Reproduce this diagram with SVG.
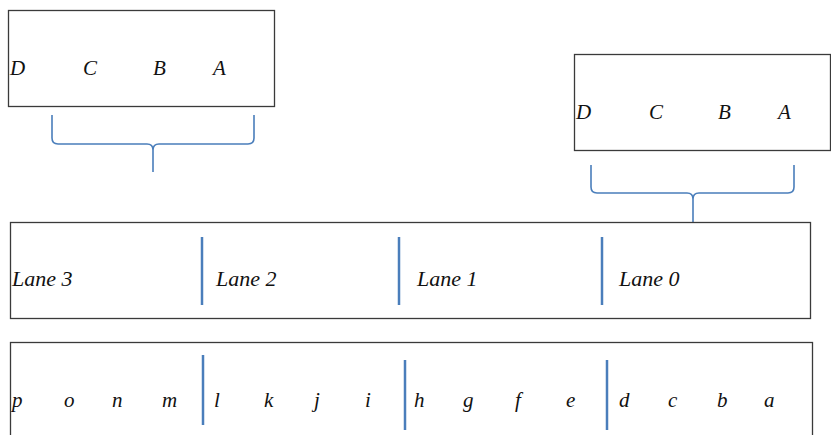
<svg xmlns="http://www.w3.org/2000/svg" width="831" height="435" viewBox="0 0 831 435">
<style>
.box{fill:#fff;stroke:#3a3a3a;stroke-width:1.3}
.sep{stroke:#4a7ebb;stroke-width:2.5;fill:none}
.brace{stroke:#4a7ebb;stroke-width:1.6;fill:none}
text{font-family:"Liberation Serif","Times New Roman",serif;font-style:italic;font-size:21px;fill:#111}
.lane{font-size:22px}
</style>
<rect width="831" height="435" fill="#fff"/>
<g id="connectors">
<path class="brace" d="M52,115 V138 Q52,144 58,144 H147 Q153,144 153,150 V172 M254,115 V138 Q254,144 248,144 H159 Q153,144 153,150"/>
<path class="brace" d="M591,165 V187 Q591,193 597,193 H687 Q693,193 693,199 V222 M794,165 V187 Q794,193 788,193 H699 Q693,193 693,199"/>
</g>
<g id="reg-left">
<rect class="box" x="8.5" y="10.5" width="266" height="96"/>
<text x="10" y="75">D</text>
<text x="83" y="75">C</text>
<text x="153" y="75">B</text>
<text x="213" y="75">A</text>
</g>
<g id="reg-right">
<rect class="box" x="574.5" y="54.5" width="256" height="96"/>
<text x="576" y="119">D</text>
<text x="649" y="119">C</text>
<text x="718" y="119">B</text>
<text x="778" y="119">A</text>
</g>
<g id="lanes">
<rect class="box" x="10.5" y="222.5" width="800" height="96"/>
<line class="sep" x1="202" y1="237" x2="202" y2="305"/>
<line class="sep" x1="399" y1="237" x2="399" y2="305"/>
<line class="sep" x1="602" y1="237" x2="602" y2="305"/>
<text class="lane" x="12" y="286">Lane 3</text>
<text class="lane" x="216" y="286">Lane 2</text>
<text class="lane" x="417" y="286">Lane 1</text>
<text class="lane" x="619" y="286">Lane 0</text>
</g>
<g id="elements">
<rect class="box" x="10.5" y="342.5" width="802" height="100"/>
<line class="sep" x1="203" y1="355" x2="203" y2="425"/>
<line class="sep" x1="405" y1="360" x2="405" y2="430"/>
<line class="sep" x1="607" y1="360" x2="607" y2="430"/>
<text x="12" y="407">p</text>
<text x="64" y="407">o</text>
<text x="112" y="407">n</text>
<text x="162" y="407">m</text>
<text x="214" y="407">l</text>
<text x="264" y="407">k</text>
<text x="314" y="407">j</text>
<text x="365" y="407">i</text>
<text x="414" y="407">h</text>
<text x="463" y="407">g</text>
<text x="515" y="407">f</text>
<text x="566" y="407">e</text>
<text x="619" y="407">d</text>
<text x="668" y="407">c</text>
<text x="717" y="407">b</text>
<text x="764" y="407">a</text>
</g>
</svg>
